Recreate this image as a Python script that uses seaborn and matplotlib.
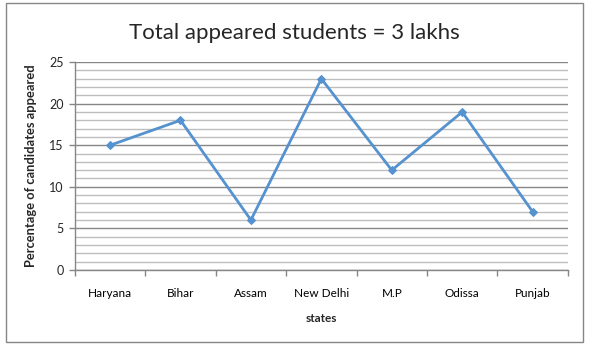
import matplotlib
matplotlib.use("Agg")
import matplotlib.pyplot as plt
import seaborn as sns
import pandas as pd
from matplotlib.patches import Rectangle
from matplotlib.ticker import FixedLocator

states = ["Haryana", "Bihar", "Assam", "New Delhi", "M.P", "Odissa", "Punjab"]
percent = [15, 18, 6, 23, 12, 19, 7]
yticks = [0, 5, 10, 15, 20, 25]

sns.set_style("white")
plt.rcParams['font.family'] = ['Lato', 'DejaVu Sans']

df = pd.DataFrame({"state": states, "pct": percent})

fig = plt.figure(figsize=(5.94, 3.51), dpi=100)
ax = fig.add_axes([0.126, 0.231, 0.83, 0.592])

# gridlines
for v in range(0, 26):
    if v % 5 == 0:
        ax.axhline(v, color="#868686", lw=1.0, zorder=0)
    else:
        ax.axhline(v, color="#BEBEBE", lw=1.0, zorder=0)

sns.lineplot(data=df, x="state", y="pct", ax=ax, color="#5592D0", lw=2,
             marker="D", markersize=4.5, markeredgecolor="#5592D0", sort=False, zorder=3)

ax.set_xlim(-0.5, len(states) - 0.5)
ax.set_ylim(0, 25)
ax.set_yticks(yticks)
ax.set_xticks(range(len(states)))
ax.set_xticklabels(states)
ax.xaxis.set_minor_locator(FixedLocator([i - 0.5 for i in range(len(states) + 1)]))
ax.tick_params(axis="x", which="major", length=0, pad=13, labelsize=8.5, colors="#000000")
ax.tick_params(axis="x", which="minor", length=4, color="#868686", width=1, bottom=True)
ax.tick_params(axis="y", which="major", length=4, color="#868686", width=1, left=True, labelsize=9, pad=4)

for s in ["top", "right"]:
    ax.spines[s].set_visible(False)
for s in ["left", "bottom"]:
    ax.spines[s].set_color("#868686")
    ax.spines[s].set_linewidth(1)

ax.set_xlabel("states", fontsize=8.5, fontweight="bold", labelpad=10)
ax.set_ylabel("Percentage of candidates appeared", fontsize=9.3, fontweight="bold", labelpad=9)

fig.text(0.495, 0.905, "Total appeared students = 3 lakhs", ha="center", va="center", fontsize=16)

fig.patches.append(Rectangle((6 / 594, 1 - 342 / 351), (583 - 6) / 594, (342 - 3) / 351,
                             transform=fig.transFigure, fill=False, edgecolor="#868686", lw=1))

fig.savefig("out.png", dpi=100)
